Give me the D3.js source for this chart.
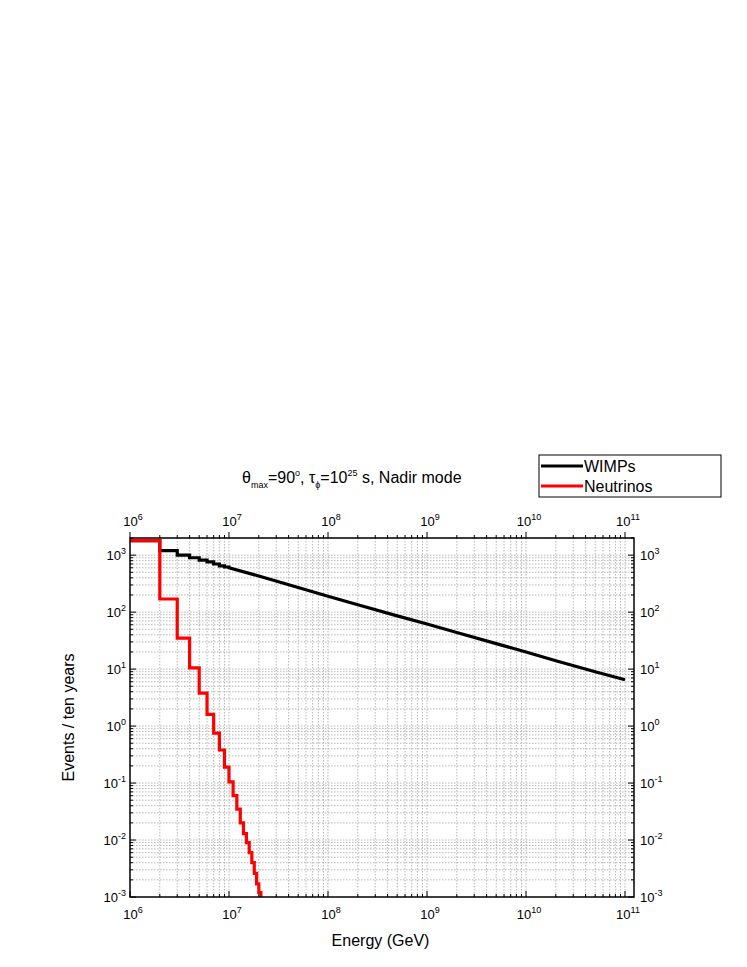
<!DOCTYPE html>
<html><head><meta charset="utf-8">
<script src="https://cdn.jsdelivr.net/npm/d3@7"></script>
<style>body{margin:0;background:#fff}text{font-family:"Liberation Sans",Arial,sans-serif}</style>
</head><body>
<script>
// step edges (GeV) and bin values
const wimpEdges = [1e6, 2e6, 3e6, 4e6, 5e6, 6e6, 7e6, 8e6, 9e6, 1e7];
const wimpSteps = [1800, 1200, 1000, 900, 820, 760, 700, 650, 620];
const wimpTailE = [1e7, 2e7, 5e7, 1e8, 2e8, 5e8, 1e9, 2e9, 5e9, 1e10, 2e10, 5e10, 1e11];
const wimpTailV = [600, 430, 270, 190, 135, 86, 62, 44, 28, 20, 14, 9, 6.5];
const nuEdges = [1e6, 2e6, 3e6, 4e6, 5e6, 6e6, 7e6, 8e6, 9e6, 1e7, 1.1e7, 1.2e7, 1.3e7, 1.4e7, 1.5e7, 1.6e7, 1.7e7, 1.8e7, 1.9e7, 2.0e7, 2.1e7];
const nuSteps = [1800, 170, 35, 10.5, 3.8, 1.6, 0.75, 0.38, 0.19, 0.105, 0.06, 0.035, 0.02, 0.013, 0.009, 0.006, 0.004, 0.0026, 0.0017, 0.0012];
const xDecades = [6, 7, 8, 9, 10, 11];
const yDecades = [-3, -2, -1, 0, 1, 2, 3];

const W = 747, H = 967;
const L = 130, R = 625, T = 538, B = 897;
const svg = d3.select("body").append("svg").attr("width", W).attr("height", H);
const x = d3.scaleLog().domain([1e6, 1e11]).range([L, R]);
const y = d3.scaleLog().domain([1e-3, 2000]).range([B, T]);
const frameR = R + 9;

// grid
const g = svg.append("g").attr("stroke", "#999").attr("stroke-width", 0.7).attr("stroke-dasharray", "1.5,1.5");
const xMin = [];
for (let d = 6; d < 11; d++) for (let k = 1; k < 10; k++) xMin.push(k * 10 ** d);
xMin.push(1e11);
const yMin = [];
for (let d = -3; d < 4; d++) for (let k = 1; k < 10; k++) if (k * 10 ** d <= 2000) yMin.push(k * 10 ** d);
g.selectAll(".vx").data(xMin.slice(1)).enter().append("line")
  .attr("x1", d => x(d)).attr("x2", d => x(d)).attr("y1", T).attr("y2", B);
g.selectAll(".hy").data(yMin.slice(1)).enter().append("line")
  .attr("y1", d => y(d)).attr("y2", d => y(d)).attr("x1", L).attr("x2", frameR);

// curves
function stepPts(edges, vals) {
  const p = [];
  vals.forEach((v, i) => { p.push([edges[i], v]); p.push([edges[i + 1], v]); });
  return p;
}
const line = d3.line().x(d => x(d[0])).y(d => y(d[1]));
const wimpPts = stepPts(wimpEdges, wimpSteps).concat(wimpTailE.map((e, i) => [e, wimpTailV[i]]));
svg.append("path").attr("d", line(wimpPts)).attr("fill", "none").attr("stroke", "#000").attr("stroke-width", 3.2);
const nuPts = stepPts(nuEdges, nuSteps);
nuPts.push([2.1e7, 1e-3]);
svg.append("path").attr("d", line(nuPts)).attr("fill", "none").attr("stroke", "#f00").attr("stroke-width", 3.2);

// frame
svg.append("rect").attr("x", L).attr("y", T).attr("width", frameR - L).attr("height", B - T)
  .attr("fill", "none").attr("stroke", "#000").attr("stroke-width", 1.5);

// ticks
const isMajor = v => Math.abs(Math.log10(v) - Math.round(Math.log10(v))) < 1e-9;
const tk = svg.append("g").attr("stroke", "#000").attr("stroke-width", 1);
xMin.forEach(v => {
  const len = isMajor(v) ? 6 : 3;
  tk.append("line").attr("x1", x(v)).attr("x2", x(v)).attr("y1", B).attr("y2", B - len);
  tk.append("line").attr("x1", x(v)).attr("x2", x(v)).attr("y1", T).attr("y2", T - len);
});
yMin.forEach(v => {
  const len = isMajor(v) ? 6 : 3;
  tk.append("line").attr("y1", y(v)).attr("y2", y(v)).attr("x1", L).attr("x2", L + len);
  tk.append("line").attr("y1", y(v)).attr("y2", y(v)).attr("x1", frameR).attr("x2", frameR - len);
});

function pow(sel, px, py, e, anchor) {
  const t = sel.append("text").attr("x", px).attr("y", py).attr("font-size", 13).attr("text-anchor", anchor);
  t.append("tspan").text("10");
  t.append("tspan").attr("font-size", 9).attr("dy", -6).text(e);
}
xDecades.forEach(d => {
  pow(svg, x(10 ** d) + 3, B + 22, d, "middle");
  pow(svg, x(10 ** d) + 3, T - 12, d, "middle");
});
yDecades.forEach(d => {
  pow(svg, L - 4, y(10 ** d) + 5, d, "end");
  pow(svg, frameR + 6, y(10 ** d) + 5, d, "start");
});

// labels
svg.append("text").attr("x", (L + R) / 2 + 3).attr("y", 946).attr("text-anchor", "middle").attr("font-size", 16).text("Energy (GeV)");
svg.append("text").attr("transform", `translate(74,${(T + B) / 2}) rotate(-90)`).attr("text-anchor", "middle")
  .attr("font-size", 16).text("Events / ten years");

const title = svg.append("text").attr("x", 242).attr("y", 483).attr("font-size", 16);
title.append("tspan").text("θ");
title.append("tspan").attr("font-size", 9).attr("dy", 5).text("max");
title.append("tspan").attr("dy", -5).text("=90");
title.append("tspan").attr("font-size", 9).attr("dy", -7).text("o");
title.append("tspan").attr("dy", 7).text(",  τ");
title.append("tspan").attr("font-size", 9).attr("dy", 5).text("ϕ");
title.append("tspan").attr("dy", -5).text("=10");
title.append("tspan").attr("font-size", 9).attr("dy", -7).text("25");
title.append("tspan").attr("dy", 7).text(" s,  Nadir mode");

// legend
const lg = svg.append("g");
lg.append("rect").attr("x", 539).attr("y", 455).attr("width", 182).attr("height", 42)
  .attr("fill", "#fff").attr("stroke", "#000").attr("stroke-width", 1);
[["WIMPs", "#000"], ["Neutrinos", "#f00"]].forEach((s, i) => {
  const yy = 466 + i * 20;
  lg.append("line").attr("x1", 541).attr("x2", 583).attr("y1", yy).attr("y2", yy).attr("stroke", s[1]).attr("stroke-width", 3.2);
  lg.append("text").attr("x", 584).attr("y", yy + 6).attr("font-size", 16).text(s[0]);
});
</script>
</body></html>
